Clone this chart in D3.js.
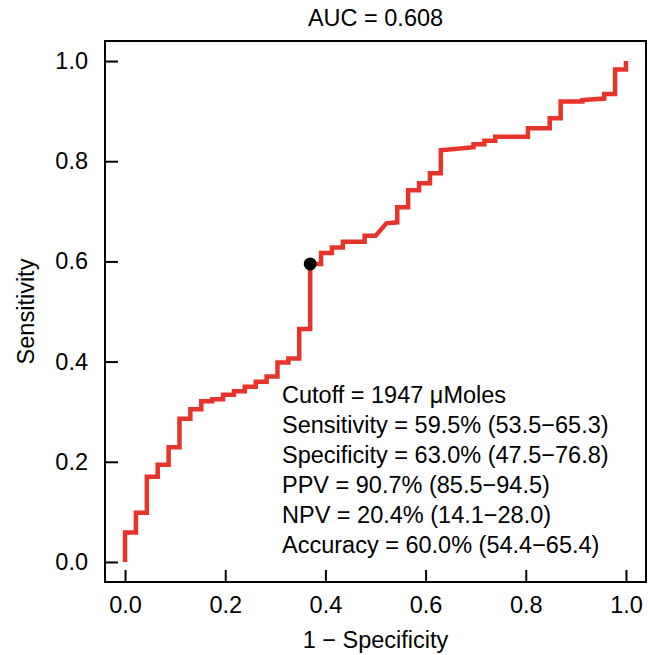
<!DOCTYPE html>
<html>
<head>
<meta charset="utf-8">
<script src="https://cdn.jsdelivr.net/npm/d3@7"></script>
<style>
  html, body { margin: 0; padding: 0; background: #fff; }
  svg text { font-family: "Liberation Sans", Arial, Helvetica, sans-serif; fill: #000; }
</style>
</head>
<body>
<svg id="chart" width="648" height="655"></svg>
<script>
// ROC curve vertices (1 - specificity, sensitivity)
const fpr = [0,0,0.0217,0.0217,0.0435,0.0435,0.0652,0.0652,0.0870,0.0870,0.1087,0.1087,0.1304,0.1304,0.1522,0.1522,0.1739,0.1739,0.1957,0.1957,0.2174,0.2174,0.2391,0.2391,0.2609,0.2609,0.2826,0.2826,0.3043,0.3043,0.3261,0.3261,0.3478,0.3478,0.3696,0.3696,0.3913,0.3913,0.4130,0.4130,0.4348,0.4348,0.4783,0.4783,0.5000,0.5217,0.5435,0.5435,0.5652,0.5652,0.5870,0.5870,0.6087,0.6087,0.6304,0.6304,0.6957,0.6957,0.7174,0.7174,0.7391,0.7391,0.8043,0.8043,0.8478,0.8478,0.8696,0.8696,0.9130,0.9130,0.9565,0.9565,0.9783,0.9783,1,1];
const tpr = [0,0.059,0.059,0.098,0.098,0.170,0.170,0.194,0.194,0.229,0.229,0.286,0.286,0.305,0.305,0.321,0.321,0.325,0.325,0.334,0.334,0.341,0.341,0.350,0.350,0.360,0.360,0.370,0.370,0.398,0.398,0.406,0.406,0.465,0.465,0.595,0.595,0.617,0.617,0.628,0.628,0.639,0.639,0.651,0.651,0.676,0.678,0.708,0.708,0.742,0.742,0.756,0.756,0.776,0.776,0.822,0.828,0.834,0.834,0.841,0.841,0.849,0.849,0.866,0.866,0.886,0.886,0.919,0.919,0.922,0.925,0.934,0.934,0.983,0.983,1];

const cutoffPoint = { fpr: 0.3696, tpr: 0.595 };
const titleText = "AUC = 0.608";
const xLabel = "1 \u2212 Specificity";
const yLabel = "Sensitivity";
const tickValues = [0, 0.2, 0.4, 0.6, 0.8, 1.0];
const statLines = [
  "Cutoff = 1947 \u03bcMoles",
  "Sensitivity = 59.5% (53.5\u221265.3)",
  "Specificity = 63.0% (47.5\u221276.8)",
  "PPV = 90.7% (85.5\u221294.5)",
  "NPV = 20.4% (14.1\u221228.0)",
  "Accuracy = 60.0% (54.4\u221265.4)"
];

const svg = d3.select("#chart");
const pLeft = 105, pRight = 646, pTop = 41, pBottom = 582;
const x = d3.scaleLinear().domain([-0.04, 1.04]).range([pLeft, pRight]);
const y = d3.scaleLinear().domain([-0.04, 1.04]).range([pBottom, pTop]);
const fs = 23.5;

// X axis
const gx = svg.append("g").attr("transform", `translate(0,${pBottom})`)
  .call(d3.axisBottom(x).tickValues(tickValues).tickFormat(d3.format(".1f"))
    .tickSizeInner(-12).tickSizeOuter(0).tickPadding(14));
gx.select(".domain").remove();
gx.selectAll(".tick line").attr("stroke", "#000").attr("stroke-width", 2);
gx.selectAll(".tick text").attr("font-size", fs).attr("font-family", "Liberation Sans, Arial, sans-serif");

// Y axis
const gy = svg.append("g").attr("transform", `translate(${pLeft},0)`)
  .call(d3.axisLeft(y).tickValues(tickValues).tickFormat(d3.format(".1f"))
    .tickSizeInner(-13).tickSizeOuter(0).tickPadding(17));
gy.select(".domain").remove();
gy.selectAll(".tick line").attr("stroke", "#000").attr("stroke-width", 2);
gy.selectAll(".tick text").attr("font-size", fs).attr("font-family", "Liberation Sans, Arial, sans-serif");

// Box
svg.append("rect").attr("x", pLeft).attr("y", pTop)
  .attr("width", pRight - pLeft).attr("height", pBottom - pTop)
  .attr("fill", "none").attr("stroke", "#000").attr("stroke-width", 2);

// ROC curve
const pts = fpr.map((d, i) => [d, tpr[i]]);
svg.append("path").datum(pts)
  .attr("d", d3.line().x(d => x(d[0])).y(d => y(d[1])))
  .attr("fill", "none").attr("stroke", "#e8332a").attr("stroke-width", 4.5)
  .attr("stroke-linejoin", "miter").attr("stroke-linecap", "butt");

// Cutoff point
svg.append("circle").attr("cx", x(cutoffPoint.fpr)).attr("cy", y(cutoffPoint.tpr))
  .attr("r", 6.5).attr("fill", "#000");

// Stats text
svg.append("g").selectAll("text").data(statLines).join("text")
  .attr("x", 282).attr("y", (d, i) => 395 + i * 30)
  .attr("dy", "0.35em").attr("font-size", fs).text(d => d);

// Title & labels
svg.append("text").attr("x", (pLeft + pRight) / 2).attr("y", 18).attr("dy", "0.35em")
  .attr("text-anchor", "middle").attr("font-size", fs).text(titleText);
svg.append("text").attr("x", (pLeft + pRight) / 2).attr("y", 640).attr("dy", "0.35em")
  .attr("text-anchor", "middle").attr("font-size", fs).text(xLabel);
svg.append("text").attr("transform", `translate(26,${(pTop + pBottom) / 2}) rotate(-90)`)
  .attr("dy", "0.35em").attr("text-anchor", "middle").attr("font-size", fs).text(yLabel);
</script>
</body>
</html>
